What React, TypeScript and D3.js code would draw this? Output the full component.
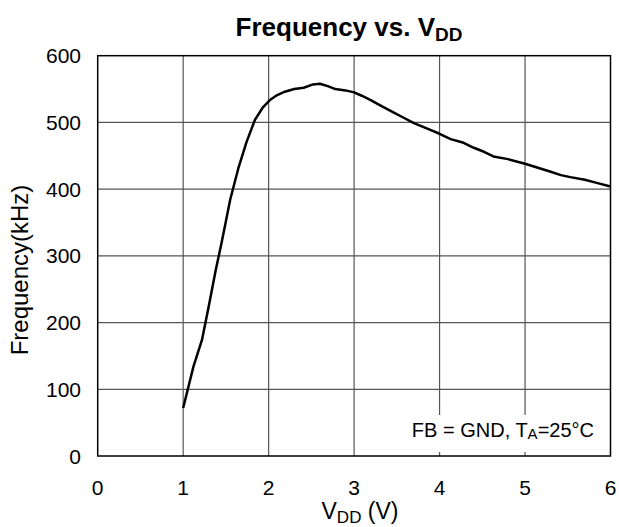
import React from "react";
import * as d3 from "d3";

const vdd = [1.0, 1.12, 1.22, 1.3, 1.38, 1.45, 1.5, 1.55, 1.645, 1.74, 1.84, 1.93, 2.02, 2.1, 2.19, 2.3, 2.41, 2.52, 2.6, 2.7, 2.78, 2.9, 3.0, 3.09, 3.2, 3.3, 3.46, 3.58, 3.7, 3.85, 4.0, 4.13, 4.27, 4.4, 4.52, 4.63, 4.8, 5.0, 5.15, 5.3, 5.42, 5.53, 5.7, 5.85, 6.0];
const freq = [72, 134, 174, 225, 278, 320, 352, 384, 431, 470, 504, 522, 534, 541, 546, 550, 552, 557, 558, 554, 550, 548, 545, 540, 533, 526, 515, 507, 499, 491, 483, 475, 470, 462, 456, 449, 445, 438, 432, 426, 421, 418, 414, 409, 404];
const xTicks = [0, 1, 2, 3, 4, 5, 6];
const yTicks = [0, 100, 200, 300, 400, 500, 600];

export default function App() {
  const W = 619, H = 527;
  const left = 97.7, right = 610.5, top = 55.7, bottom = 456;
  const x = d3.scaleLinear().domain([0, 6]).range([left, right]);
  const y = d3.scaleLinear().domain([0, 600]).range([bottom, top]);
  const pts = vdd.map((v, i) => [v, freq[i]] as [number, number]);
  const line = d3.line<[number, number]>().x(d => x(d[0])).y(d => y(d[1])).curve(d3.curveLinear);
  const font = "'Liberation Sans', Arial, sans-serif";
  return (
    <svg width={W} height={H} style={{ position: "absolute", left: 0, top: 0, background: "#fff" }} fontFamily={font}>
      <text x={349} y={36} textAnchor="middle" fontSize={26} fontWeight="bold">
        Frequency vs. V<tspan fontSize={19} dy={5}>DD</tspan>
      </text>
      {xTicks.slice(1, -1).map(t => (
        <line key={"gx" + t} x1={x(t)} x2={x(t)} y1={top} y2={bottom} stroke="#555" strokeWidth={1.2} />
      ))}
      {yTicks.slice(1, -1).map(t => (
        <line key={"gy" + t} x1={left} x2={right} y1={y(t)} y2={y(t)} stroke="#555" strokeWidth={1.2} />
      ))}
      <rect x={400} y={415} width={200} height={37} fill="#fff" />
      <rect x={left} y={top} width={right - left} height={bottom - top} fill="none" stroke="#000" strokeWidth={1.5} />
      {yTicks.map(t => (
        <text key={"ty" + t} x={81} y={y(t) + 7.5} textAnchor="end" fontSize={21}>{t}</text>
      ))}
      {xTicks.map(t => (
        <text key={"tx" + t} x={x(t)} y={495} textAnchor="middle" fontSize={21}>{t}</text>
      ))}
      <text x={360} y={519} textAnchor="middle" fontSize={23}>
        V<tspan fontSize={17} dy={4}>DD</tspan><tspan dy={-4}> (V)</tspan>
      </text>
      <text transform={`translate(28,270) rotate(-90)`} textAnchor="middle" fontSize={24}>
        Frequency(kHz)
      </text>
      <text x={594} y={437} textAnchor="end" fontSize={20}>
        FB = GND, T<tspan fontSize={15} dy={2}>A</tspan><tspan dy={-2}>=25°C</tspan>
      </text>
      <path d={line(pts) || ""} fill="none" stroke="#000" strokeWidth={2.5} strokeLinejoin="round" />
    </svg>
  );
}
